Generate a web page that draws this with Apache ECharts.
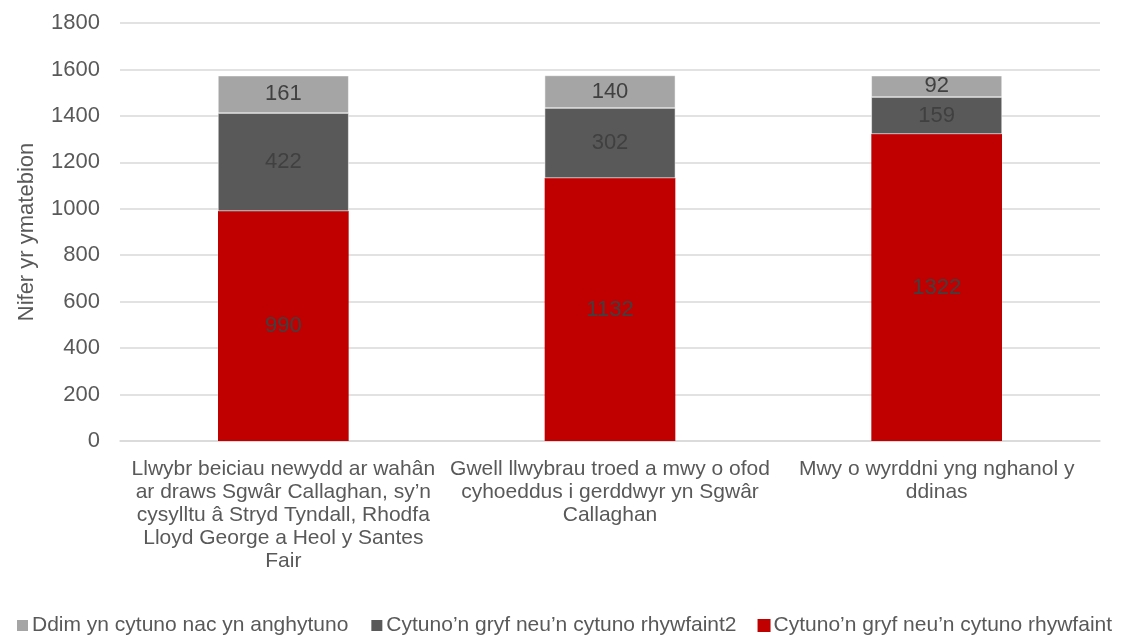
<!DOCTYPE html>
<html>
<head>
<meta charset="utf-8">
<script src="https://cdn.jsdelivr.net/npm/echarts@6/dist/echarts.min.js"></script>
<style>
  html, body { margin: 0; padding: 0; background: #fff; }
  #chart { width: 1126px; height: 636px; }
</style>
</head>
<body>
<div id="chart"></div>
<script>
const categories = [
  "Llwybr beiciau newydd ar wahân\nar draws Sgwâr Callaghan, sy’n\ncysylltu â Stryd Tyndall, Rhodfa\nLloyd George a Heol y Santes\nFair",
  "Gwell llwybrau troed a mwy o ofod\ncyhoeddus i gerddwyr yn Sgwâr\nCallaghan",
  "Mwy o wyrddni yng nghanol y\nddinas"
];
const seriesNames = [
  "Ddim yn cytuno nac yn anghytuno",
  "Cytuno’n gryf neu’n cytuno rhywfaint2",
  "Cytuno’n gryf neu’n cytuno rhywfaint"
];
const agreeValues = [990, 1132, 1322];
const agree2Values = [422, 302, 159];
const neutralValues = [161, 140, 92];
const yTicks = [0, 200, 400, 600, 800, 1000, 1200, 1400, 1600, 1800];

const font = "Liberation Sans, Arial, sans-serif";
const chart = echarts.init(document.getElementById("chart"));

const barLabel = {
  show: true,
  position: "inside",
  color: "#404040",
  fontSize: 22,
  fontFamily: font
};

const option = {
  animation: false,
  grid: { left: 120, right: 26, top: 23, bottom: 195, outerBoundsMode: "none", containLabel: false },
  legend: {
    top: 610,
    left: 10,
    right: 0,
    itemWidth: 13,
    itemHeight: 13,
    itemGap: 21,
    icon: "rect",
    textStyle: { color: "#595959", fontSize: 21, fontFamily: font, padding: [0, 0, 0, -2] },
    data: [seriesNames[0], seriesNames[1], seriesNames[2]]
  },
  xAxis: {
    type: "category",
    data: categories,
    axisLine: { lineStyle: { color: "#d9d9d9", width: 1.5 } },
    axisTick: { show: false },
    axisLabel: {
      color: "#595959",
      fontSize: 21,
      fontFamily: font,
      lineHeight: 23,
      margin: 17,
      interval: 0,
      align: "center"
    }
  },
  yAxis: {
    type: "value",
    min: 0,
    max: yTicks[yTicks.length - 1],
    interval: 200,
    name: "Nifer yr ymatebion",
    nameLocation: "middle",
    nameGap: 82,
    nameTextStyle: { color: "#595959", fontSize: 22, fontFamily: font },
    axisLine: { show: false },
    axisTick: { show: false },
    splitLine: { lineStyle: { color: "#d9d9d9", width: 1.5 } },
    axisLabel: {
      color: "#595959",
      fontSize: 22,
      fontFamily: font,
      margin: 20,
      formatter: (v) => String(v)
    }
  },
  series: [
    {
      name: seriesNames[2],
      type: "bar",
      stack: "total",
      barWidth: "40%",
      data: agreeValues,
      itemStyle: { color: "#C00000" },
      label: barLabel
    },
    {
      name: seriesNames[1],
      type: "bar",
      stack: "total",
      data: agree2Values,
      itemStyle: { color: "#595959", borderColor: "#ffffff", borderWidth: 0.5 },
      label: barLabel
    },
    {
      name: seriesNames[0],
      type: "bar",
      stack: "total",
      data: neutralValues,
      itemStyle: { color: "#A5A5A5", borderColor: "#ffffff", borderWidth: 0.5 },
      label: barLabel
    }
  ]
};
chart.setOption(option);
</script>
</body>
</html>
